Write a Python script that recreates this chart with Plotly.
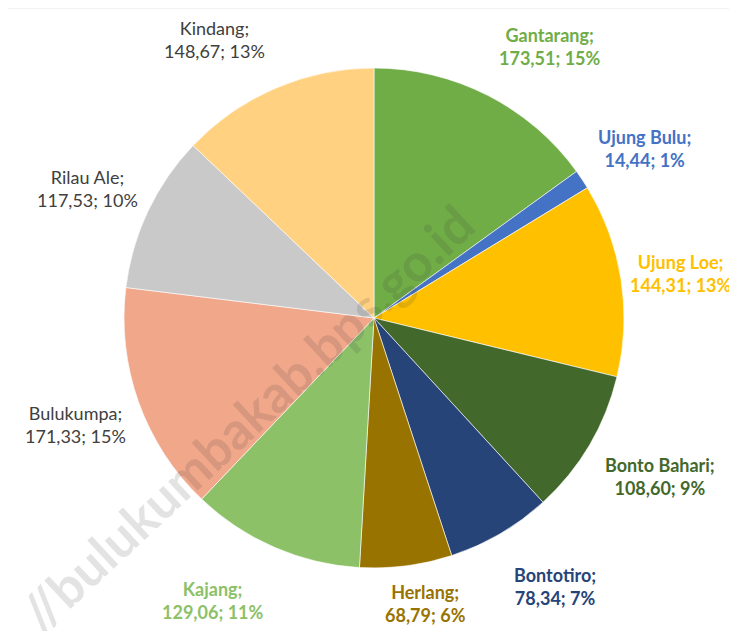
import math
import plotly.graph_objects as go

# ---- data ----
regions = ["Gantarang", "Ujung Bulu", "Ujung Loe", "Bonto Bahari", "Bontotiro",
           "Herlang", "Kajang", "Bulukumpa", "Rilau Ale", "Kindang"]
values = [173.51, 14.44, 144.31, 108.60, 78.34, 68.79, 129.06, 171.33, 117.53, 148.67]
percent_labels = ["15%", "1%", "13%", "9%", "7%", "6%", "11%", "15%", "10%", "13%"]

# ---- styles ----
slice_colors = ["#70AD47", "#4472C4", "#FFC000", "#43682B", "#264478",
                "#997300", "#8CC168", "#F1A78A", "#C9C9C9", "#FFD180"]
label_colors = ["#70AD47", "#4472C4", "#FFC000", "#43682B", "#264478",
                "#997300", "#8CC168", "#404040", "#404040", "#404040"]
label_bold = [True, True, True, True, True, True, True, False, False, False]
# label placement: distance from centre (px) and angular tweak (deg) vs slice mid-angle
label_r = [324, 319, 310, 327, 324, 290, 325, 317, 314, 321]
label_dtheta = [5.9, 1.5, 0.7, -1.6, -3.6, -2.9, 6.2, 0.0, -1.0, -6.7]

OFF = 8                      # page offset of the figure in the browser
W, H = 737 - OFF, 631 - OFF  # figure size
cx, cy, R = 374 - OFF, 318 - OFF, 250  # pie centre / radius in figure pixels

def fmt(v):
    return f"{v:.2f}".replace(".", ",")

fig = go.Figure(go.Pie(
    labels=regions,
    values=values,
    sort=False,
    direction="clockwise",
    rotation=0,
    marker=dict(colors=slice_colors, line=dict(color="white", width=0.6)),
    textinfo="none",
    hoverinfo="label+value+percent",
    showlegend=False,
    domain=dict(x=[(cx - R) / W, (cx + R) / W], y=[1 - (cy + R) / H, 1 - (cy - R) / H]),
))

# labels placed along each slice's mid-angle
total = sum(values)
cum = 0.0
for i, (name, v) in enumerate(zip(regions, values)):
    mid = (cum + v / 2) / total * 2 * math.pi + math.radians(label_dtheta[i])
    cum += v
    px = cx + label_r[i] * math.sin(mid)
    py = cy - label_r[i] * math.cos(mid)
    if label_bold[i]:
        txt = f"<b>{name};</b><br><b>{fmt(v)}; {percent_labels[i]}</b>"
    else:
        txt = f"{name};<br>{fmt(v)}; {percent_labels[i]}"
    fig.add_annotation(
        x=px / W, y=1 - py / H, xref="paper", yref="paper",
        text=txt, showarrow=False, align="center",
        xanchor="center", yanchor="middle",
        font=dict(family="Lato", size=18, color=label_colors[i]),
    )

# watermark
fig.add_annotation(
    x=(246 - OFF) / W, y=1 - (418 - OFF) / H, xref="paper", yref="paper",
    xanchor="center", yanchor="middle",
    text="<b>//bulukumbakab.bps.go.id</b>", showarrow=False,
    textangle=-43, font=dict(family="Lato", size=52, color="rgba(60,60,60,0.14)"),
)

# faint frame line
fig.add_shape(type="line", xref="paper", yref="paper", x0=0, x1=1, y0=1, y1=1,
              line=dict(color="#E6E6E6", width=1))

fig.update_layout(
    width=W, height=H,
    margin=dict(l=0, r=0, t=0, b=0),
    paper_bgcolor="white",
    plot_bgcolor="white",
)

fig.write_html("out.html")
